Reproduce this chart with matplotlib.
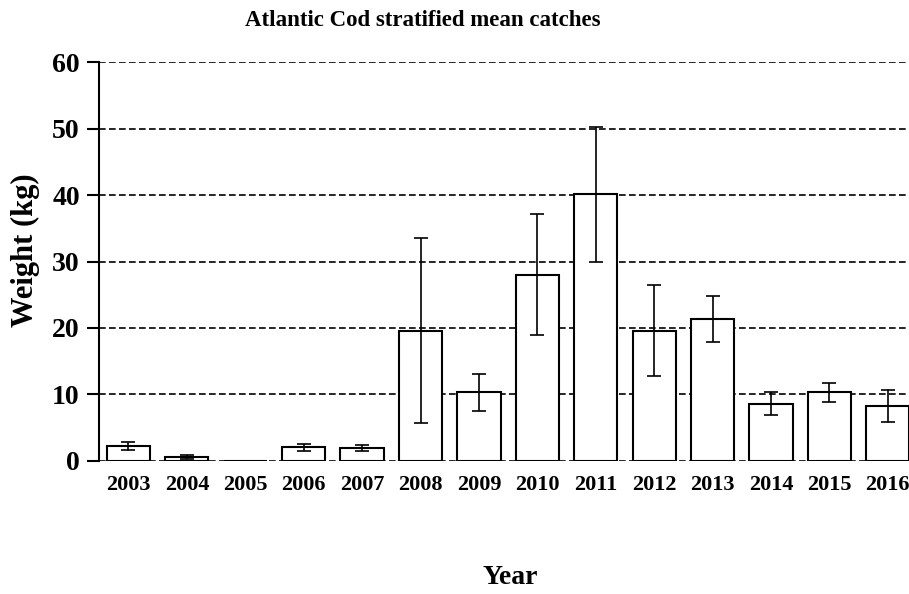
import matplotlib.pyplot as plt

# Datos
years = ['2003', '2004', '2005', '2006', '2007', '2008', '2009',
         '2010', '2011', '2012', '2013', '2014', '2015', '2016']
weight = [2.2, 0.55, 0.0, 2.0, 1.9, 19.6, 10.3, 28.0, 40.1, 19.6, 21.3, 8.6, 10.3, 8.3]
err = [0.55, 0.25, 0.0, 0.55, 0.4, 13.9, 2.8, 9.1, 10.1, 6.8, 3.45, 1.75, 1.45, 2.4]
yticks = [0, 10, 20, 30, 40, 50, 60]

plt.rcParams['font.family'] = ['Liberation Serif', 'DejaVu Serif']
plt.rcParams['font.weight'] = 'bold'

fig = plt.figure(figsize=(9.09, 5.94), dpi=100)
ax = fig.add_axes([0.1092, 0.2244, 0.8996, 0.6707])

x = range(len(years))
ax.bar(x, weight, width=0.74, color='white', edgecolor='black', linewidth=1.5,
       zorder=3)
ax.errorbar(x, weight, yerr=[e if e > 0 else float('nan') for e in err],
            fmt='none', ecolor='black', elinewidth=1.2, capsize=5, capthick=1.2,
            zorder=4)

ax.set_xlim(-0.5, len(years) - 0.5)
ax.set_ylim(0, 60)
ax.set_yticks(yticks)
ax.set_xticks(list(x))
ax.set_xticklabels(years, fontsize=16, fontweight='bold')
ax.tick_params(axis='y', labelsize=20, length=9, width=1.5, direction='out', pad=5)
ax.tick_params(axis='x', length=0, pad=10)
for lab in ax.get_yticklabels():
    lab.set_fontweight('bold')

ax.yaxis.grid(True, linestyle=(0, (4, 2)), color='black', linewidth=1.2, zorder=0)
ax.set_axisbelow(True)
for s in ['top', 'right', 'bottom']:
    ax.spines[s].set_visible(False)
ax.spines['left'].set_linewidth(1.5)

fig.text(0.028, 0.579, 'Weight (kg)', ha='center', va='center', rotation=90,
         fontsize=22, fontweight='bold')
fig.text(0.561, 0.027, 'Year', ha='center', va='center', fontsize=20,
         fontweight='bold')
fig.text(0.465, 0.965, 'Atlantic Cod stratified mean catches', ha='center',
         va='center', fontsize=16.5, fontweight='bold')

fig.savefig('out.png', dpi=100)
